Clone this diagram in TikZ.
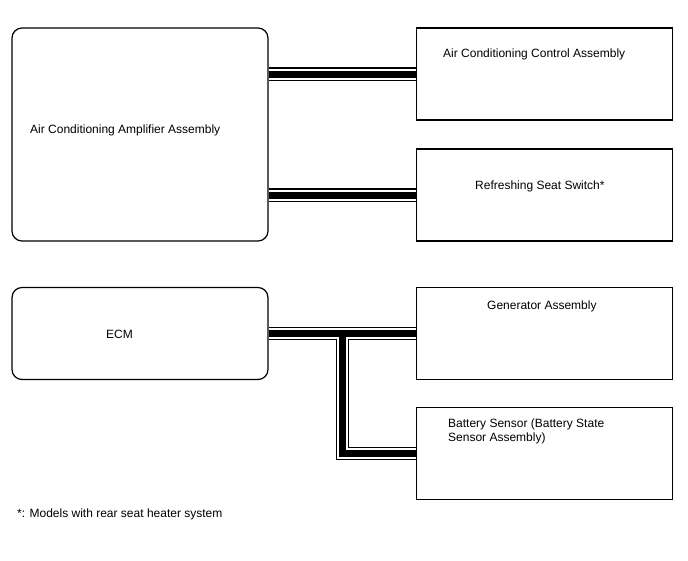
\documentclass[tikz,border=0pt]{standalone}
\usepackage{fontspec}
\setmainfont{Liberation Sans}
\usetikzlibrary{positioning,calc}

\begin{document}
\begin{tikzpicture}[
  x=1pt, y=-1pt,
  unit/.style={
    draw, line width=1.2pt, minimum width=256pt,
    minimum height=92pt, inner sep=0pt
  },
  ctrl/.style={unit, rounded corners=10pt},
  txt/.style={anchor=west, inner sep=0pt, font=\fontsize{12}{14.5}\selectfont, align=left},
]
\useasboundingbox (0,0) rectangle (688,560);

% Control units on the left
\node[ctrl, minimum height=213pt] (amp) at (140,134.5) {};
\node[ctrl] (ecm) at (140,333.5) {};

% Connected units on the right
\node[unit] (acctrl) at (544.5,74)    {};
\node[unit] (seatsw) at (544.5,195)   {};
\node[unit] (gen)    at (544.5,333.5) {};
\node[unit] (batt)   at (544.5,453.5) {};

% Labels
\node[txt] (amp-t)    at (30,130)  {Air Conditioning Amplifier Assembly};
\node[txt] (ecm-t)    at (106,334) {ECM};
\node[txt] (acctrl-t) at (443,54)  {Air Conditioning Control Assembly};
\node[txt] (seatsw-t) at (475,186) {Refreshing Seat Switch*};
\node[txt] (gen-t)    at (487,306) {Generator Assembly};
\node[txt] (batt-t)   at (448,431.5) {Battery Sensor (Battery State\\Sensor Assembly)};
\node[txt] (note)     at (17,514)  {*: Models with rear seat heater system};

% Communication lines (outer, gap, core)
\coordinate (tee) at ($(ecm.east)!.5!(gen.west)$);
\foreach \w/\c in {13.4/black, 11/white, 7/black} {
  \draw[line width=\w pt, \c] (amp.east |- acctrl.west) -- (acctrl.west);
  \draw[line width=\w pt, \c] (amp.east |- seatsw.west) -- (seatsw.west);
  \draw[line width=\w pt, \c] (ecm.east) -- (gen.west);
  \draw[line width=\w pt, \c] (tee) |- (batt.west);
}

\end{tikzpicture}
\end{document}
